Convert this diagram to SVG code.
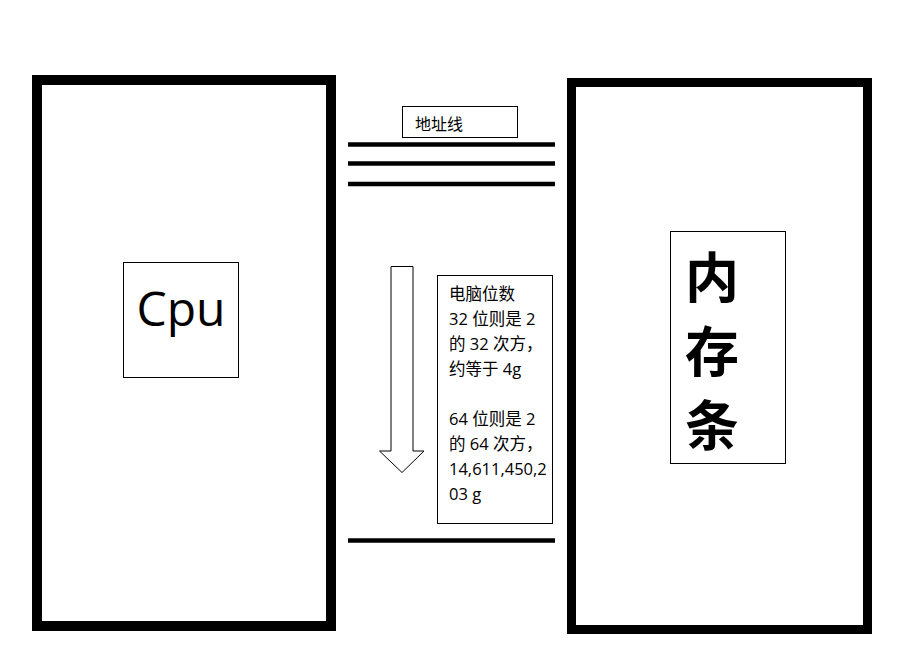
<svg xmlns="http://www.w3.org/2000/svg" width="900" height="651" viewBox="0 0 900 651">
<style>
.frame{fill:none;stroke:#000}
.box{fill:#fff;stroke:#000;stroke-width:1}
.bus{stroke:#000;stroke-width:4.5}
.t{font-family:"Open Sans","Noto Sans CJK SC",sans-serif;fill:#000}
.cjk{font-family:"Noto Sans CJK SC",sans-serif;fill:#000}
</style>
<rect width="900" height="651" fill="#fff"/>
<g id="cpu">
<rect class="frame" x="37" y="80" width="294" height="546" stroke-width="10"/>
<rect class="box" x="123.5" y="262.5" width="115" height="115"/>
<text class="t" x="181" y="326" font-size="48" text-anchor="middle">Cpu</text>
</g>
<g id="memory">
<rect class="frame" x="571.5" y="82.5" width="296" height="547" stroke-width="9"/>
<rect class="box" x="670.5" y="231.5" width="115" height="232"/>
<text class="cjk" x="712" y="298" font-size="54" font-weight="bold" text-anchor="middle">内</text>
<text class="cjk" x="712" y="372" font-size="54" font-weight="bold" text-anchor="middle">存</text>
<text class="cjk" x="712" y="446" font-size="54" font-weight="bold" text-anchor="middle">条</text>
</g>
<g id="address-label">
<rect class="box" x="402.5" y="106.5" width="115" height="31"/>
<text class="cjk" x="415" y="130" font-size="16">地址线</text>
</g>
<g id="connectors">
<line class="bus" x1="348" y1="144.5" x2="555" y2="144.5"/>
<line class="bus" x1="348" y1="163.5" x2="555" y2="163.5"/>
<line class="bus" x1="348" y1="184" x2="555" y2="184"/>
<line class="bus" x1="348" y1="540.5" x2="555" y2="540.5"/>
<polygon points="391,266.5 413,266.5 413,451 424,451 402,472.5 379.5,451 391,451" fill="#fff" stroke="#000" stroke-width="1"/>
</g>
<g id="note">
<rect class="box" x="437.5" y="275.5" width="115" height="248"/>
<g class="t" font-size="16.5">
<text x="449" y="300">电脑位数</text>
<text x="449" y="325">32 位则是 2</text>
<text x="449" y="350">的 32 次方，</text>
<text x="449" y="375">约等于 4g</text>
<text x="449" y="425">64 位则是 2</text>
<text x="449" y="450">的 64 次方，</text>
<text x="449" y="475">14,611,450,2</text>
<text x="449" y="500">03 g</text>
</g>
</g>
</svg>
